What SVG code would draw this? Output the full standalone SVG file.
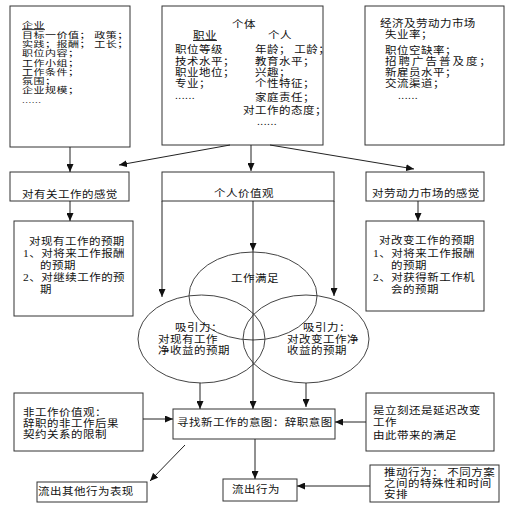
<svg xmlns="http://www.w3.org/2000/svg" width="508" height="510" viewBox="0 0 508 510">
<defs>
<marker id="ah" markerUnits="userSpaceOnUse" markerWidth="8" markerHeight="7" refX="8" refY="3.5" orient="auto">
<path d="M0,0 L8,3.5 L0,7 z" fill="#111"/>
</marker>
<style>
.box{fill:#fff;stroke:#333;stroke-width:1}
.ell{fill:none;stroke:#444;stroke-width:1}
.ln{stroke:#222;stroke-width:1;fill:none;marker-end:url(#ah)}
text{font-family:"Liberation Serif","Noto Sans CJK SC",sans-serif;fill:#111;font-size:11.5px;letter-spacing:0.5px}
.s{font-size:11px;letter-spacing:0.5px}
.m{text-anchor:middle}
.u{text-decoration:underline}
</style>
</defs>
<rect width="508" height="510" fill="#fff"/>

<g id="enterprise">
<rect class="box" x="10" y="6" width="120" height="141"/>
<g transform="scale(1,0.75)">
<text class="s"><tspan class="u" x="22" y="37.87">企业</tspan><tspan x="22" y="50.27">目标一价值； 政策；</tspan><tspan x="22" y="62.67">实践；报酬； 工长；</tspan><tspan x="22" y="75.07">职位内容；</tspan><tspan x="22" y="87.47">工作小组；</tspan><tspan x="22" y="99.87">工作条件；</tspan><tspan x="22" y="112.27">氛围；</tspan><tspan x="22" y="124.67">企业规模；</tspan><tspan x="22" y="137.07">......</tspan></text>
</g>
</g>

<g id="individual">
<rect class="box" x="162" y="6" width="161" height="139"/>
<g transform="scale(1,0.85)">
<text><tspan x="232" y="32.94">个体</tspan><tspan class="u" x="193" y="45.88">职业</tspan><tspan x="268" y="45.88">个人</tspan><tspan x="175" y="62.35">职位等级</tspan><tspan x="255" y="62.35">年龄； 工龄；</tspan><tspan x="175" y="76.47">技术水平；</tspan><tspan x="255" y="76.47">教育水平；</tspan><tspan x="175" y="89.41">职业地位；</tspan><tspan x="255" y="89.41">兴趣；</tspan><tspan x="175" y="102.35">专业；</tspan><tspan x="255" y="102.35">个性特征；</tspan><tspan x="175" y="116.47">......</tspan><tspan x="255" y="118.82">家庭责任；</tspan><tspan x="243" y="134.12">对工作的态度；</tspan><tspan x="257" y="147.06">......</tspan></text>
</g>
</g>

<g id="market">
<rect class="box" x="365" y="6" width="139" height="139"/>
<g transform="scale(1,0.85)">
<text><tspan x="380" y="32.35">经济及劳动力市场</tspan><tspan x="385" y="45.29">失业率；</tspan><tspan x="385" y="63.53">职位空缺率；</tspan><tspan x="385" y="76.47" letter-spacing="2">招聘广告普及度；</tspan><tspan x="385" y="89.41">新雇员水平；</tspan><tspan x="385" y="102.35">交流渠道；</tspan><tspan x="398" y="116.47">......</tspan></text>
</g>
</g>

<g id="feel-job">
<rect class="box" x="10" y="172" width="119" height="29"/>
<text transform="scale(1,0.85)" x="22" y="232.94">对有关工作的感觉</text>
</g>

<g id="values">
<rect class="box" x="162" y="172" width="172" height="29"/>
<text transform="scale(1,0.85)" class="m" x="244" y="231.76">个人价值观</text>
</g>

<g id="feel-market">
<rect class="box" x="366" y="172" width="118" height="29"/>
<text transform="scale(1,0.85)" x="372" y="231.76">对劳动力市场的感觉</text>
</g>

<g id="expect-current">
<rect class="box" x="14" y="221" width="119" height="95"/>
<text transform="scale(1,0.85)"><tspan x="29" y="288.24">对现有工作的预期</tspan><tspan x="23" y="302.35">1、对将来工作报酬</tspan><tspan x="40" y="316.47">的预期</tspan><tspan x="23" y="330.59">2、对继续工作的预</tspan><tspan x="40" y="344.71">期</tspan></text>
</g>

<g id="expect-change">
<rect class="box" x="366" y="221" width="118" height="90"/>
<text transform="scale(1,0.85)"><tspan x="379" y="287.06">对改变工作的预期</tspan><tspan x="373" y="302.35">1、对将来工作报酬</tspan><tspan x="391" y="316.47">的预期</tspan><tspan x="373" y="330.59">2、对获得新工作机</tspan><tspan x="391" y="344.71">会的预期</tspan></text>
</g>

<g id="satisfaction">
<ellipse class="ell" cx="253" cy="296" rx="64" ry="44"/>
<text transform="scale(1,0.85)" class="m" x="255" y="331.76">工作满足</text>
</g>
<g id="attract-current">
<ellipse class="ell" cx="201.5" cy="339" rx="63.5" ry="44"/>
<text transform="scale(1,0.85)"><tspan x="175" y="389.41">吸引力：</tspan><tspan x="158" y="403.53">对现有工作</tspan><tspan x="158" y="416.47">净收益的预期</tspan></text>
</g>
<g id="attract-change">
<ellipse class="ell" cx="306" cy="339" rx="63" ry="44"/>
<text transform="scale(1,0.85)"><tspan x="303" y="389.41">吸引力：</tspan><tspan x="287" y="403.53">对改变工作净</tspan><tspan x="287" y="416.47">收益的预期</tspan></text>
</g>

<g id="nonwork">
<rect class="box" x="14" y="393" width="129" height="58"/>
<text transform="scale(1,0.85)"><tspan x="23" y="489.41">非工作价值观：</tspan><tspan x="23" y="502.35">辞职的非工作后果</tspan><tspan x="23" y="515.29">契约关系的限制</tspan></text>
</g>

<g id="intent">
<rect class="box" x="173" y="409" width="162" height="30"/>
<text transform="scale(1,0.85)" x="177" y="501.76">寻找新工作的意图：辞职意图</text>
</g>

<g id="timing">
<rect class="box" x="366" y="393" width="128" height="58"/>
<text transform="scale(1,0.85)"><tspan x="373" y="487.06">是立刻还是延迟改变</tspan><tspan x="373" y="501.18">工作</tspan><tspan x="373" y="516.47">由此带来的满足</tspan></text>
</g>

<g id="other-behavior">
<rect class="box" x="37" y="482" width="110" height="20"/>
<text transform="scale(1,0.85)" x="38" y="582.94">流出其他行为表现</text>
</g>

<g id="turnover">
<rect class="box" x="223" y="479" width="74" height="22"/>
<text transform="scale(1,0.85)" x="232" y="580.59">流出行为</text>
</g>

<g id="push">
<rect class="box" x="370" y="465" width="129" height="37"/>
<text transform="scale(1,0.85)"><tspan x="384" y="560">推动行为： 不同方案</tspan><tspan x="384" y="572.94">之间的特殊性和时间</tspan><tspan x="384" y="585.88">安排</tspan></text>
</g>

<g id="connectors">
<line class="ln" x1="70" y1="147" x2="70" y2="172"/>
<line class="ln" x1="230" y1="145" x2="119" y2="165"/>
<line class="ln" x1="251" y1="145" x2="251" y2="171"/>
<line class="ln" x1="270" y1="145" x2="414" y2="169"/>
<line class="ln" x1="70" y1="201" x2="70" y2="221"/>
<line class="ln" x1="418" y1="201" x2="418" y2="221"/>
<line class="ln" x1="162" y1="201" x2="162" y2="297"/>
<line class="ln" x1="334" y1="201" x2="334" y2="296"/>
<line class="ln" x1="253" y1="201" x2="253" y2="251"/>
<line class="ln" x1="253" y1="251" x2="253" y2="409"/>
<line class="ln" x1="200" y1="383" x2="200" y2="409"/>
<line class="ln" x1="306" y1="383" x2="306" y2="407"/>
<line class="ln" x1="143" y1="419" x2="173" y2="419"/>
<line class="ln" x1="366" y1="422" x2="335" y2="422"/>
<line class="ln" x1="255" y1="439" x2="255" y2="479"/>
<line class="ln" x1="185" y1="445" x2="150" y2="481"/>
<line class="ln" x1="370" y1="486" x2="297" y2="486"/>
</g>
</svg>
